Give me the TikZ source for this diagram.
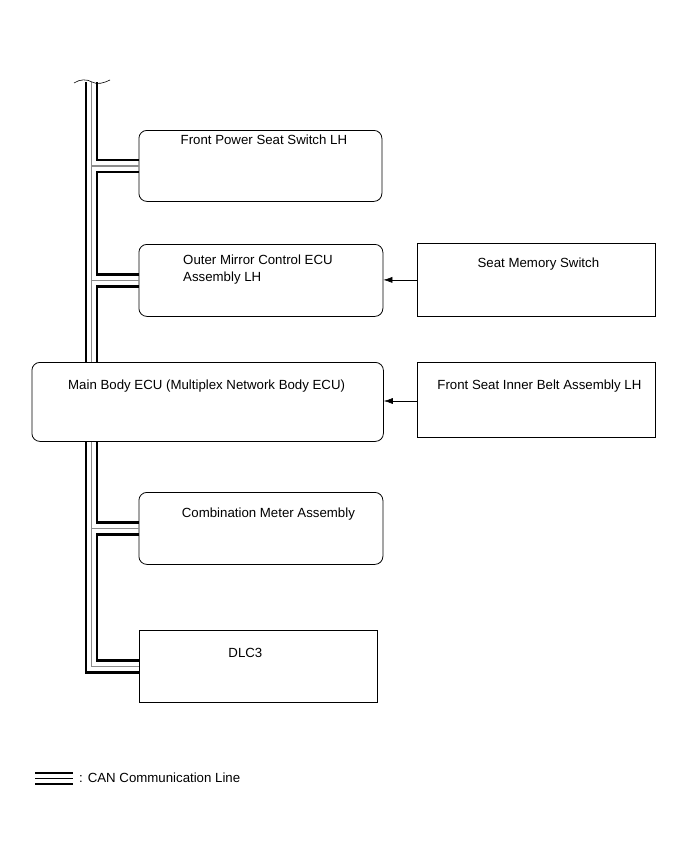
\documentclass[tikz,border=0pt]{standalone}
\usepackage{fontspec}
\setmainfont{Liberation Sans}
\usetikzlibrary{positioning,arrows.meta,calc}

\begin{document}
\begin{tikzpicture}[
    x=1bp, y=-1bp,
    font=\fontsize{13.3}{17}\selectfont,
    box/.style={
        draw,
        line width=0.8bp,
        anchor=north west,
        inner sep=0pt
    },
    rbox/.style={box, rounded corners=8bp},
    txt/.style={inner sep=0pt, anchor=north},
    ltxt/.style={inner sep=0pt, anchor=north west, align=left},
    canblack/.style={line width=2.2bp, black},
    cangray/.style={line width=1.2bp, black!45},
    arrow/.style={-{Latex[length=9bp,width=6bp]}, line width=0.6bp}
]
\useasboundingbox (0,0) rectangle (691,854);

% ============================================================
% UNITS
% ============================================================
\node[rbox, minimum width=243bp, minimum height=71bp,
      label={[txt, xshift=3.5bp, yshift=-5bp]north:Front Power Seat Switch LH}]
      (fpss) at (138.5,130) {};
\node[rbox, minimum width=244bp, minimum height=72bp,
      label={[ltxt, xshift=44.5bp, yshift=-11bp]north west:Outer Mirror Control ECU\\Assembly LH}]
      (omc) at (138.5,244) {};
\node[box, minimum width=238bp, minimum height=73bp,
      label={[txt, xshift=2bp, yshift=-15bp]north:Seat Memory Switch}]
      (sms) at (417,243) {};
\node[rbox, minimum width=351.5bp, minimum height=79bp,
      label={[ltxt, xshift=36.5bp, yshift=-18bp]north west:Main Body ECU (Multiplex Network Body ECU)}]
      (main) at (31.5,362) {};
\node[box, minimum width=238bp, minimum height=75bp,
      label={[txt, xshift=3bp, yshift=-18bp]north:Front Seat Inner Belt Assembly LH}]
      (fsib) at (417,362) {};
\node[rbox, minimum width=244bp, minimum height=72bp,
      label={[txt, xshift=7.5bp, yshift=-16bp]north:Combination Meter Assembly}]
      (comb) at (138.5,492) {};
\node[box, minimum width=238bp, minimum height=72bp,
      label={[txt, xshift=-13bp, yshift=-18bp]north:DLC3}]
      (dlc) at (139,630) {};

\draw[arrow] (sms.west) -- (sms.west -| omc.east);
\draw[arrow] (fsib.west |- 0,401) -- (main.east |- 0,401);

% ============================================================
% CAN BUS
% ============================================================
\coordinate (busL) at (86,82);
\coordinate (busM) at (91.5,82);
\coordinate (busR) at (97,82);

% outer line
\draw[canblack] (busL) -- (busL |- main.north);
\draw[canblack, line join=miter] (busL |- main.south) -- ($(busL |- dlc.west)+(0,6)$) -- ($(dlc.west)+(0,6)$);

% centre line
\draw[cangray] (busM) -- (busM |- main.north);
\draw[cangray] (busM |- main.south) -- (busM |- dlc.west) -- (dlc.west);
\draw[cangray] (busM |- fpss.west) -- (fpss.west);
\draw[cangray] (busM |- omc.west) -- (omc.west);
\draw[cangray] (busM |- comb.west) -- (comb.west);

% inner line
\draw[canblack, line join=miter] (busR) -- ($(busR |- fpss.west)+(0,-6)$) -- ($(fpss.west)+(0,-6)$);
\draw[canblack, line join=miter] ($(fpss.west)+(0,6)$) -- ($(busR |- fpss.west)+(0,6)$)
    -- ($(busR |- omc.west)+(0,-6)$) -- ($(omc.west)+(0,-6)$);
\draw[canblack, line join=miter] ($(omc.west)+(0,6)$) -- ($(busR |- omc.west)+(0,6)$) -- (busR |- main.north);
\draw[canblack, line join=miter] (busR |- main.south) -- ($(busR |- comb.west)+(0,-6)$) -- ($(comb.west)+(0,-6)$);
\draw[canblack, line join=miter] ($(comb.west)+(0,6)$) -- ($(busR |- comb.west)+(0,6)$)
    -- ($(busR |- dlc.west)+(0,-6)$) -- ($(dlc.west)+(0,-6)$);

% break mark
\draw[line width=0.6bp] (74,83) .. controls (80,79) and (87,79) .. (92,82)
    .. controls (97,85) and (104,83) .. (110,80);

% ============================================================
% LEGEND
% ============================================================
\node[anchor=west, inner sep=0pt] (legend) at (79,778) {: CAN Communication Line};
\draw[line width=2bp] ($(legend.west)+(-44,-5)$) -- ++(38,0);
\draw[line width=1.4bp] ($(legend.west)+(-44,0.5)$) -- ++(38,0);
\draw[line width=2bp] ($(legend.west)+(-44,6)$) -- ++(38,0);

\end{tikzpicture}
\end{document}
